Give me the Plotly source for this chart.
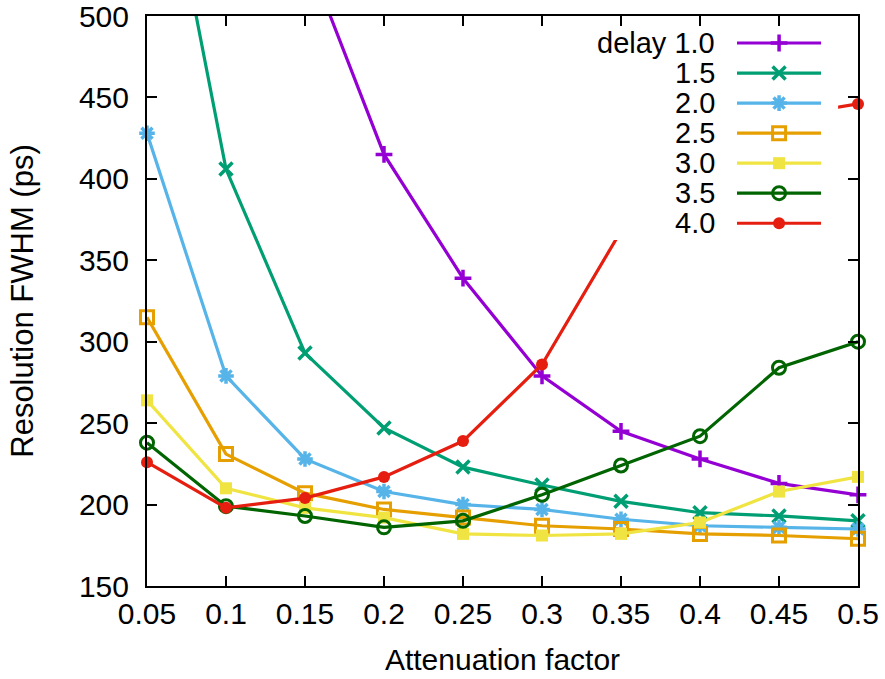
import plotly.graph_objects as go

# ---- data ----
attenuation = [0.05, 0.10, 0.15, 0.20, 0.25, 0.30, 0.35, 0.40, 0.45, 0.50]
delay_labels = ["delay 1.0", "1.5", "2.0", "2.5", "3.0", "3.5", "4.0"]
fwhm_d10 = [980, 720, 540, 415, 339, 279, 245, 228, 213, 206]
fwhm_d15 = [655, 406, 293, 247, 223, 212, 202, 195, 193, 190]
fwhm_d20 = [428, 279, 228, 208, 200, 197, 191, 187, 186, 185]
fwhm_d25 = [315, 231, 207, 197, 192, 187, 185, 182, 181, 179]
fwhm_d30 = [264, 210, 198, 192, 182, 181, 182, 189, 208, 217]
fwhm_d35 = [238, 199, 193, 186, 190, 206, 224, 242, 284, 300]
fwhm_d40 = [226, 198, 204, 217, 239, 286, 368, 420, 438, 446]
x_ticks = [0.05, 0.1, 0.15, 0.2, 0.25, 0.3, 0.35, 0.4, 0.45, 0.5]
x_ticktext = ["0.05", "0.1", "0.15", "0.2", "0.25", "0.3", "0.35", "0.4", "0.45", "0.5"]
y_ticks = [150, 200, 250, 300, 350, 400, 450, 500]

series = [fwhm_d10, fwhm_d15, fwhm_d20, fwhm_d25, fwhm_d30, fwhm_d35, fwhm_d40]
colors = ["#9400d3", "#009e73", "#56b4e9", "#e69f00", "#f0e442", "#006400", "#e51e10"]
symbols = ["cross-thin", "x-thin", "asterisk", "square-open", "square", "circle-open", "circle"]
sizes = [12, 13, 13, 13, 12, 13, 12]

FONT = "Liberation Sans, Arial, sans-serif"

def marker_style(i):
    thin = symbols[i] in ("cross-thin", "x-thin", "asterisk")
    if thin:
        return dict(symbol=symbols[i], size=sizes[i], color=colors[i],
                    line=dict(color=colors[i], width=3.5))
    if symbols[i].endswith("open"):
        return dict(symbol=symbols[i], size=sizes[i], color=colors[i],
                    line=dict(color=colors[i], width=3))
    return dict(symbol=symbols[i], size=sizes[i], color=colors[i], line=dict(width=0))

fig = go.Figure()
for i, ys in enumerate(series):
    fig.add_trace(go.Scatter(
        x=attenuation, y=ys, mode="lines+markers", name=delay_labels[i],
        line=dict(color=colors[i], width=3.2), marker=marker_style(i),
        cliponaxis=False, showlegend=False))

# ---- opaque key (gnuplot style: label on the left, sample on the right) ----
key_box_x = [0.623, 0.972, 0.972, 0.623, 0.623]
key_box_y = [0.607, 0.607, 1.0, 1.0, 0.607]
fig.add_trace(go.Scatter(x=key_box_x, y=key_box_y, xaxis="x2", yaxis="y2",
                         mode="lines", fill="toself", fillcolor="white",
                         line=dict(width=0, color="white"), hoverinfo="skip",
                         showlegend=False))
row_top = 0.9526
row_step = 0.0527
for i in range(len(series)):
    yy = row_top - i * row_step
    fig.add_trace(go.Scatter(x=[0.8298, 0.889, 0.948], y=[yy, yy, yy],
                             xaxis="x2", yaxis="y2", mode="lines",
                             line=dict(color=colors[i], width=3.2),
                             hoverinfo="skip", showlegend=False))
    fig.add_trace(go.Scatter(x=[0.889], y=[yy], xaxis="x2", yaxis="y2",
                             mode="markers", marker=marker_style(i),
                             hoverinfo="skip", showlegend=False))
    fig.add_annotation(x=0.8017, y=yy, xref="paper", yref="paper",
                       text=delay_labels[i], showarrow=False,
                       xanchor="right", yanchor="middle",
                       font=dict(family=FONT, size=29, color="black"))

axis_common = dict(showline=True, linecolor="black", linewidth=2, mirror="ticks",
                   ticks="inside", ticklen=10, tickwidth=2, tickcolor="black",
                   showgrid=False, zeroline=False, automargin=False,
                   ticklabeloverflow="allow",
                   tickfont=dict(family=FONT, size=30, color="black"))

fig.update_layout(
    width=885, height=679,
    margin=dict(l=147, r=27, t=16, b=93),
    paper_bgcolor="white", plot_bgcolor="white",
    showlegend=False,
    xaxis=dict(range=[0.05, 0.5], tickvals=x_ticks, ticktext=x_ticktext,
               title=dict(text="Attenuation factor", font=dict(family=FONT, size=30, color="black"),
                          standoff=20),
               ticklabelstandoff=0, **axis_common),
    yaxis=dict(range=[150, 500], tickvals=y_ticks,
               title=dict(text="Resolution FWHM (ps)", font=dict(family=FONT, size=31, color="black"),
                          standoff=36),
               ticklabelstandoff=10, **axis_common),
    xaxis2=dict(overlaying="x", range=[0, 1], visible=False, anchor="y2"),
    yaxis2=dict(overlaying="y", range=[0, 1], visible=False, anchor="x2"),
)

fig.write_html("out.html")
